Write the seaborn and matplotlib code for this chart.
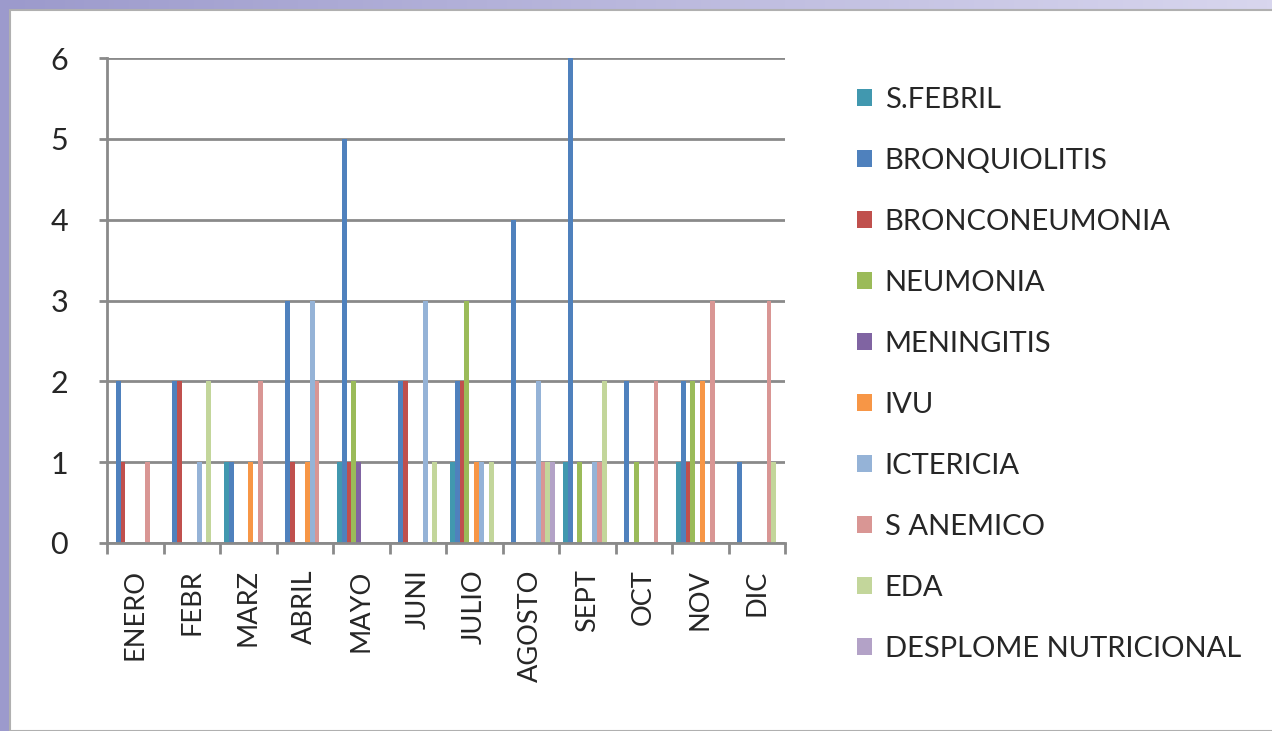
import numpy as np
import pandas as pd
import matplotlib
matplotlib.use("Agg")
import matplotlib.pyplot as plt
import seaborn as sns
from matplotlib.patches import Rectangle
from matplotlib.colors import LinearSegmentedColormap

months = ["ENERO", "FEBR", "MARZ", "ABRIL", "MAYO", "JUNI", "JULIO",
          "AGOSTO", "SEPT", "OCT", "NOV", "DIC"]
series = ["S.FEBRIL", "BRONQUIOLITIS", "BRONCONEUMONIA", "NEUMONIA",
          "MENINGITIS", "IVU", "ICTERICIA", "S ANEMICO", "EDA",
          "DESPLOME NUTRICIONAL"]

s_febril      = [0, 0, 1, 0, 1, 0, 1, 0, 1, 0, 1, 0]
bronquiolitis = [2, 2, 1, 3, 5, 2, 2, 4, 6, 2, 2, 1]
bronconeum    = [1, 2, 0, 1, 1, 2, 2, 0, 0, 0, 1, 0]
neumonia      = [0, 0, 0, 0, 2, 0, 3, 0, 1, 1, 2, 0]
meningitis    = [0, 0, 0, 0, 1, 0, 0, 0, 0, 0, 0, 0]
ivu           = [0, 0, 1, 1, 0, 0, 1, 0, 0, 0, 2, 0]
ictericia     = [0, 1, 0, 3, 0, 3, 1, 2, 1, 0, 0, 0]
s_anemico     = [1, 0, 2, 2, 0, 0, 0, 1, 1, 2, 3, 3]
eda           = [0, 2, 0, 0, 0, 1, 1, 1, 2, 0, 0, 1]
desplome      = [0, 0, 0, 0, 0, 0, 0, 1, 0, 0, 0, 0]

values = [s_febril, bronquiolitis, bronconeum, neumonia, meningitis, ivu,
          ictericia, s_anemico, eda, desplome]
colors = ["#4198AF", "#4F81BD", "#C0504D", "#9BBB59", "#8064A2",
          "#F79646", "#95B3D7", "#D99694", "#C3D69B", "#B3A2C7"]

df = pd.DataFrame([(m, s, v[i]) for s, v in zip(series, values)
                   for i, m in enumerate(months)],
                  columns=["mes", "serie", "valor"])

sns.set_theme(style="white")
plt.rcParams["font.family"] = ["Lato", "DejaVu Sans"]

W, H = 1272, 731
fig = plt.figure(figsize=(W / 100, H / 100), dpi=100)

# slide-like background
bg = fig.add_axes([0, 0, 1, 1], zorder=-10)
grad = np.linspace(0, 1, 256).reshape(1, -1)
cm = LinearSegmentedColormap.from_list("g", ["#9c9acc", "#d8d6ee"])
bg.imshow(grad, aspect="auto", cmap=cm, extent=[0, 1, 0, 1])
bg.add_patch(Rectangle((10 / W, 0), 1, 1 - 10 / H, facecolor="white",
                       edgecolor="#b0b0b0", lw=1.5))
bg.set_xlim(0, 1); bg.set_ylim(0, 1)
bg.axis("off")

ax = fig.add_axes([107 / W, (H - 543) / H, 678 / W, 485 / H])
sns.barplot(data=df, x="mes", y="valor", hue="serie", order=months,
            hue_order=series, palette=colors, width=10 / 11.5,
            ax=ax, saturation=1, linewidth=0, errorbar=None)

ax.set_xlim(-0.5, 11.5)
ax.set_ylim(0, 6)
ax.set_yticks(range(7))
ax.yaxis.grid(True, color="#8a8a8a", lw=2)
ax.set_axisbelow(True)
ax.set_xlabel("")
ax.set_ylabel("")
for side in ["top", "right"]:
    ax.spines[side].set_visible(False)
for side in ["left", "bottom"]:
    ax.spines[side].set_color("#8a8a8a")
    ax.spines[side].set_linewidth(2)
ax.tick_params(axis="y", left=True, length=6, width=2, color="#8a8a8a",
               labelsize=22, pad=22)
ax.set_xticks(range(12))
ax.set_xticklabels(months, rotation=90, fontsize=19.5)
ax.tick_params(axis="x", bottom=False, pad=13)
ax.set_xticks(np.arange(-0.5, 12, 1), minor=True)
ax.tick_params(axis="x", which="minor", bottom=True, length=8, width=2,
               color="#8a8a8a")
for lbl in ax.get_xticklabels():
    lbl.set_va("top")

leg = ax.legend(loc="upper left", bbox_to_anchor=(857 / W, 1 - 87 / H),
                bbox_transform=fig.transFigure, frameon=False, fontsize=21,
                handlelength=0.5, handleheight=0.5, labelspacing=1.2,
                handletextpad=0.45, borderaxespad=0, borderpad=0)

fig.savefig("out.png", dpi=100)
